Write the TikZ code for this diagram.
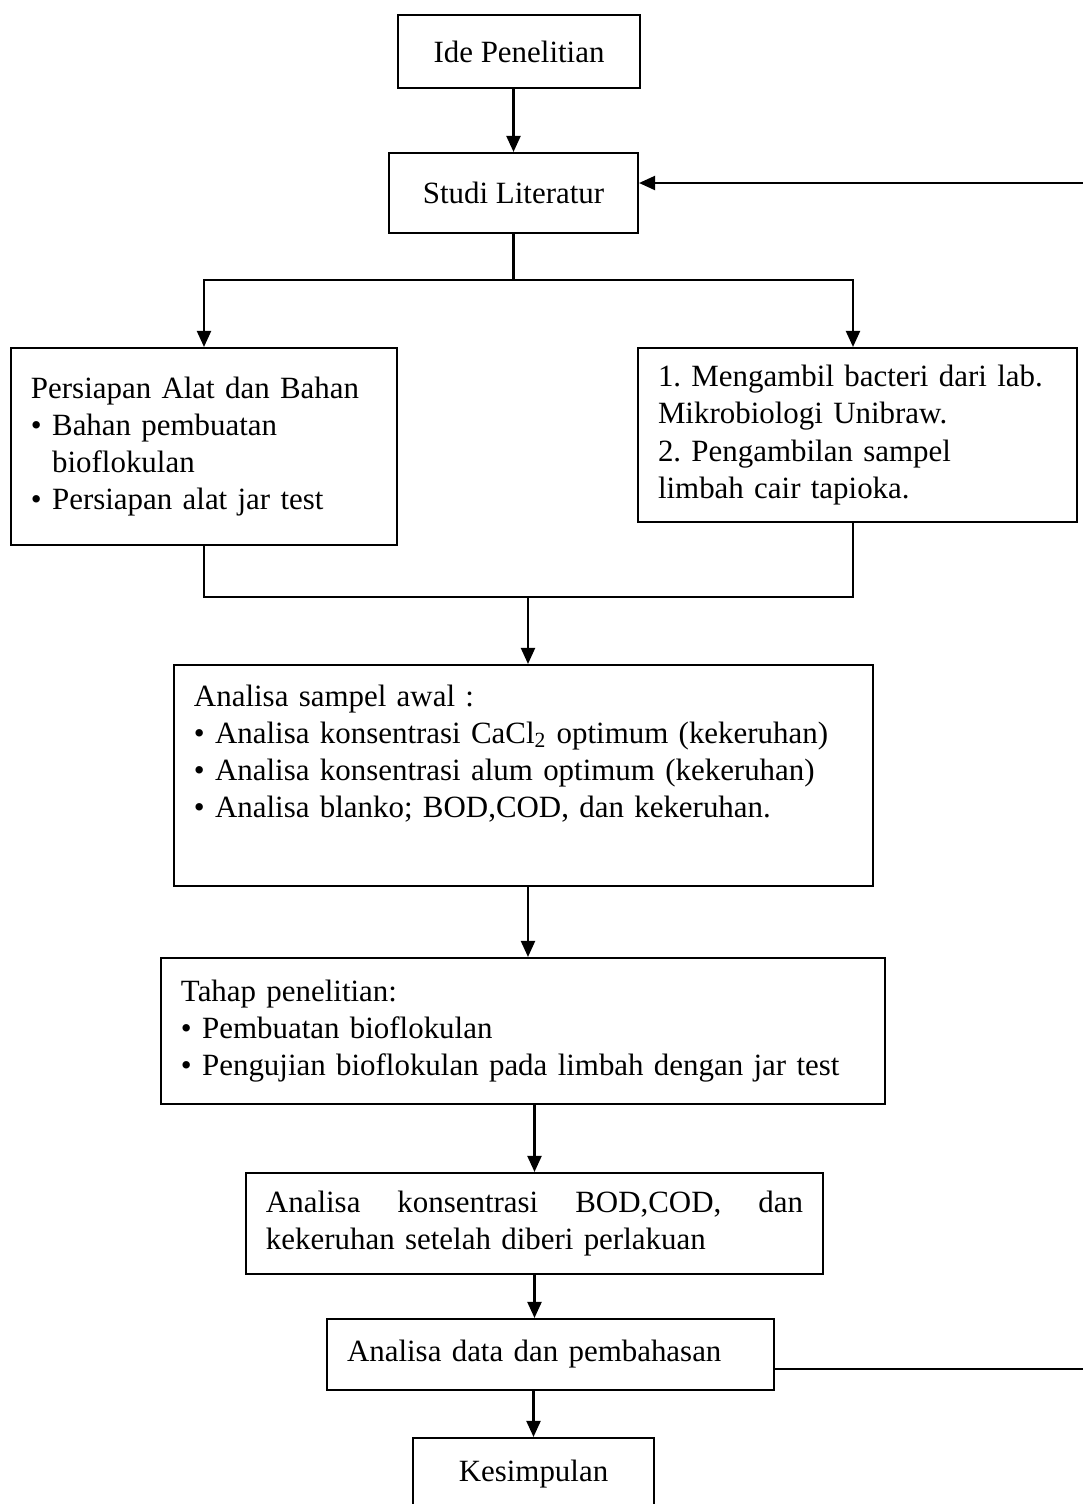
\documentclass[tikz,border=0pt]{standalone}
\usepackage{fontspec}
\setmainfont{Liberation Serif}
\usetikzlibrary{arrows.meta,positioning,calc}
\frenchspacing

\begin{document}
\begin{tikzpicture}[x=0.2mm, y=-0.2mm, >={Triangle[length=3.2mm,width=2.8mm]},
  line width=1.2pt,
  stepbox/.style={draw, inner xsep=4mm, inner ysep=2mm, align=center, font=\fontsize{17.6}{21.2}\selectfont},
  listbox/.style={stepbox, align=left}]
  \clip (0,0) rectangle (1083,1504);
  \node[stepbox, minimum width=48.4mm, minimum height=14.6mm] (ide) at (519,51.5) {Ide Penelitian};
  \node[stepbox, minimum width=49.8mm, minimum height=16mm] (studi) at (513.5,193) {Studi Literatur};
  \node[listbox, text width=69.2mm, minimum height=39.4mm] (prep) at (204,446.5)
      {Persiapan Alat dan Bahan\\ \textbullet\ Bahan pembuatan\\ \hphantom{\textbullet\ }bioflokulan\\ \textbullet\ Persiapan alat jar test};
  \node[listbox, text width=79.8mm, minimum height=34.8mm] (ambil) at (857.5,435)
      {1. Mengambil bacteri dari lab.\\ Mikrobiologi Unibraw.\\ 2. Pengambilan sampel\\ limbah cair tapioka.};
  \node[listbox, text width=131.8mm, minimum height=44.2mm] (awal) at (523.5,775.5)
      {Analisa sampel awal :\\ \textbullet\ Analisa konsentrasi CaCl\textsubscript{2} optimum (kekeruhan)\\
       \textbullet\ Analisa konsentrasi alum optimum (kekeruhan)\\ \textbullet\ Analisa blanko; BOD,COD, dan kekeruhan.\\ \strut};
  \node[listbox, text width=136.8mm, minimum height=29.2mm] (tahap) at (523,1031)
      {Tahap penelitian:\\ \textbullet\ Pembuatan bioflokulan\\ \textbullet\ Pengujian bioflokulan pada limbah dengan jar test};
  \node[listbox, text width=107.4mm, minimum height=20.2mm] (konsen) at (534.5,1223.5)
      {Analisa\hfill konsentrasi\hfill BOD,COD,\hfill dan\\ kekeruhan setelah diberi perlakuan};
  \node[listbox, text width=81.4mm, minimum height=14.2mm] (data) at (550.5,1354.5) {Analisa data dan pembahasan};
  \node[stepbox, minimum width=48.2mm, minimum height=14.6mm] (kes) at (533.5,1474.5) {Kesimpulan};
  % branch and merge points
  \coordinate (split) at (513.5,280);
  \coordinate (merge) at (528,597);
  \coordinate (back) at (1095,1369);
  \coordinate (backtop) at (1095,183);
  \draw[->] (studi.north |- ide.south) -- (studi.north);
  \draw (studi.south) -- (split);
  \draw[->] (split) -| (prep.north);
  \draw[->] (split) -| ([xshift=-0.9mm]ambil.north);
  \draw (prep.south) |- (merge);
  \draw ([xshift=-0.9mm]ambil.south) |- (merge);
  \draw[->] (merge) -- (merge |- awal.north);
  \draw[->] (awal.south -| merge) -- (merge |- tahap.north);
  \draw[->] (konsen.north |- tahap.south) -- (konsen.north);
  \draw[->] (konsen.south) -- (konsen.south |- data.north);
  \draw[->] (kes.north |- data.south) -- (kes.north);
  % feedback to literature study
  \draw[->] (data.east |- back) -- (back) -- (backtop) -- (studi.east |- backtop);
\end{tikzpicture}
\end{document}
